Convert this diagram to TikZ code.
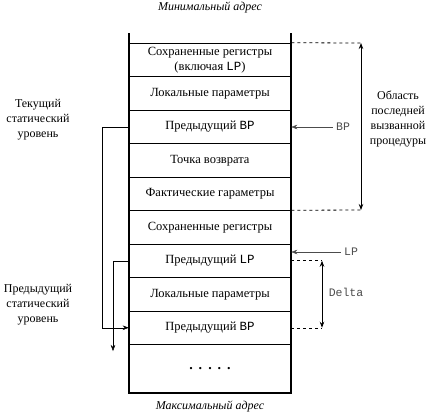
\documentclass[tikz,border=0pt]{standalone}
\usepackage{fontspec}
\setmainfont{Liberation Serif}
\setmonofont{Liberation Mono}
\usetikzlibrary{calc,arrows.meta}
\tikzset{
  >={Stealth[length=6pt,width=4.5pt]},
  cell/.style={draw, line width=0.5pt, minimum width=162pt, minimum height=33.5pt, inner sep=0pt, align=center, font=\fontsize{12.5}{15}\selectfont},
  side/.style={align=center, font=\fontsize{12}{15}\selectfont},
  frameline/.style={line width=1.4pt},
  ptrlabel/.style={font=\ttfamily\fontsize{11.5}{13}\selectfont, text=black!70}
}

\begin{document}
\begin{tikzpicture}[x=1pt,y=-1pt]
			%%%%% START %%%%%
			\useasboundingbox (0,0) rectangle (428,416);
			
			\node[cell] (r1) at (210, 59.75) {Сохраненные регистры\\(включая \texttt{LP})};
			\node[cell] (r2) at (210, 93.25) {Локальные параметры};
			\node[cell] (r3) at (210, 126.75) {Предыдущий \texttt{BP}};
			\node[cell] (r4) at (210, 160.25) {Точка возврата};
			\node[cell] (r5) at (210, 193.75) {Фактические гараметры};
			\node[cell] (r6) at (210, 227.25) {Сохраненные регистры};
			\node[cell] (r7) at (210, 260.75) {Предыдущий \texttt{LP}};
			\node[cell] (r8) at (210, 294.25) {Локальные параметры};
			\node[cell] (r9) at (210, 327.75) {Предыдущий \texttt{BP}};
			\node[cell, minimum height=48.5pt, font=\bfseries\fontsize{14}{15}\selectfont] (r10) at (210, 368.75) {.\hspace{6pt}.\hspace{6pt}.\hspace{6pt}.\hspace{6pt}.};
			
			% frame borders
			\draw[frameline] (129, 33) -- (129, 393) -- (291, 393) -- (291, 33);
			\draw[frameline] (r6.north west) -- (r6.north east);
			
			\node[font=\itshape\fontsize{12}{14}\selectfont] (minaddr) at (210, 7.5) {Минимальный адрес};
			\node[font=\itshape\fontsize{12}{14}\selectfont] (maxaddr) at (210, 406) {Максимальный адрес};
			
			% last procedure area
			\coordinate (areaTop) at (361, 43);
			\coordinate (areaBot) at (361, 210);
			\draw[dashed, line width=0.8pt] (r1.north east) -- ([xshift=2pt]areaTop);
			\draw[dashed, line width=0.8pt] (r6.north east) -- ([xshift=2pt]areaBot);
			\draw[<->, line width=0.8pt] (areaTop) -- (areaBot);
			\node[side] (area) at (398, 119) {Область\\последней\\вызванной\\процедуры};
			
			\node[ptrlabel] (bp) at (343, 127) {BP};
			\draw[->, black!70] (bp.west) -- (bp.west -| r3.east);
			
			\node[ptrlabel] (lp) at (351, 252) {LP};
			\draw[->, black!70] (lp.west) -- (lp.west -| r7.east);
			
			% delta
			\coordinate (deltaTop) at (322, 260.75);
			\coordinate (deltaBot) at (322, 327.75);
			\draw[dashed, line width=0.8pt] (r7.east) -- (deltaTop);
			\draw[dashed, line width=0.4pt] (r9.east) -- (deltaBot);
			\draw[<->, line width=0.8pt] (deltaTop) -- (deltaBot);
			\node[ptrlabel] (delta) at (346, 292) {Delta};
			
			% static levels
			\node[side] (curlvl) at (38, 120) {Текущий\\статический\\уровень};
			\node[side] (prevlvl) at (38, 305) {Предыдущий\\статический\\уровень};
			
			\draw[->] (r3.west) -- ++(-27, 0) |- (r9.west);
			\coordinate (prevEnd) at (113, 351);
			\draw[->] (r7.west) -| (prevEnd);
			
			%%%%% END %%%%%
\end{tikzpicture}
\end{document}
